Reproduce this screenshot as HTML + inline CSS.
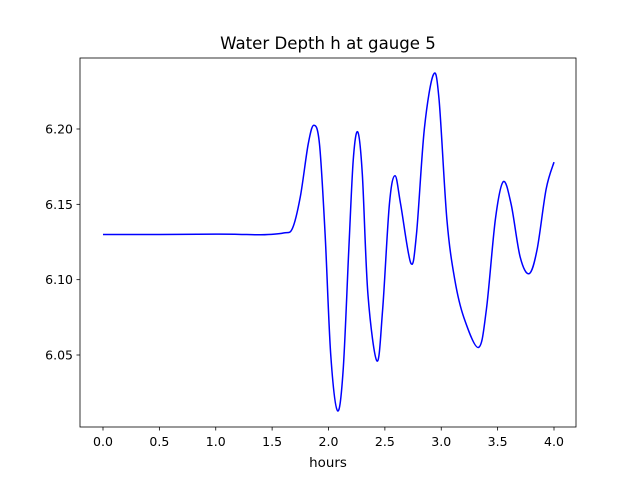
<!DOCTYPE html>
<html><head><meta charset="utf-8"><style>
body{margin:0;background:#fff;}
svg{display:block;font-family:"DejaVu Sans","Liberation Sans",sans-serif;}
</style></head><body>
<svg id="chart" width="640" height="480" viewBox="0 0 640 480">
<rect width="640" height="480" fill="#fff"/>
<text x="328" y="49" font-size="16.6" text-anchor="middle">Water Depth h at gauge 5</text>
<g id="xt"></g>
<g id="yt"></g>
<path id="line" fill="none" stroke="#0000ff" stroke-width="1.5"/>
<rect x="80" y="58" width="496" height="369" fill="none" stroke="#000" stroke-width="0.8"/>
<text x="328" y="467" font-size="13.4" text-anchor="middle">hours</text>
</svg>
<script>
const times=[0,0.5,1.0,1.2,1.4,1.6,1.68,1.75,1.82,1.87,1.92,1.97,2.02,2.08,2.13,2.18,2.22,2.26,2.30,2.35,2.43,2.48,2.54,2.59,2.64,2.73,2.78,2.85,2.93,2.98,3.05,3.12,3.2,3.33,3.40,3.48,3.55,3.62,3.70,3.78,3.85,3.93,4.0];
const depths=[6.130,6.130,6.1302,6.1301,6.1298,6.131,6.134,6.155,6.190,6.2025,6.19,6.13,6.05,6.013,6.04,6.12,6.18,6.198,6.17,6.09,6.046,6.08,6.15,6.169,6.15,6.111,6.13,6.20,6.236,6.22,6.14,6.10,6.075,6.055,6.08,6.14,6.165,6.15,6.115,6.104,6.12,6.16,6.178];
const xTicks=[0,0.5,1.0,1.5,2.0,2.5,3.0,3.5,4.0];
const xTickLabels=["0.0","0.5","1.0","1.5","2.0","2.5","3.0","3.5","4.0"];
const yTicks=[6.05,6.10,6.15,6.20];
const yTickLabels=["6.05","6.10","6.15","6.20"];
const X=t=>103+t*112.75;
const Y=h=>355-(h-6.05)*1506.7;
const NS="http://www.w3.org/2000/svg";
const xt=document.getElementById('xt'),yt=document.getElementById('yt');
xTicks.forEach((t,i)=>{
 const l=document.createElementNS(NS,'line');
 
 
 l.setAttribute('x1',X(t));l.setAttribute('x2',X(t));l.setAttribute('y1',427);l.setAttribute('y2',430.5);l.setAttribute('stroke','#000');l.setAttribute('stroke-width','0.8');
 xt.appendChild(l);
 const tx=document.createElementNS(NS,'text');
 
 
 tx.setAttribute('x',X(t));tx.setAttribute('y',446);tx.setAttribute('font-size','12.5');tx.setAttribute('text-anchor','middle');
 tx.textContent=xTickLabels[i];xt.appendChild(tx);
});
yTicks.forEach((h,i)=>{
 const l=document.createElementNS(NS,'line');
 
 
 l.setAttribute('x1',76.5);l.setAttribute('x2',80);l.setAttribute('y1',Y(h));l.setAttribute('y2',Y(h));l.setAttribute('stroke','#000');l.setAttribute('stroke-width','0.8');
 yt.appendChild(l);
 const tx=document.createElementNS(NS,'text');
 
 
 tx.setAttribute('x',73);tx.setAttribute('y',Y(h)+4.5);tx.setAttribute('font-size','12.5');tx.setAttribute('text-anchor','end');
 tx.textContent=yTickLabels[i];yt.appendChild(tx);
});
const p=times.map((t,i)=>[X(t),Y(depths[i])]);
let d='M'+p[0][0]+','+p[0][1];
for(let i=0;i<p.length-1;i++){
 const p0=p[Math.max(0,i-1)],p1=p[i],p2=p[i+1],p3=p[Math.min(p.length-1,i+2)];
 const c1=[p1[0]+(p2[0]-p0[0])/6,p1[1]+(p2[1]-p0[1])/6];
 const c2=[p2[0]-(p3[0]-p1[0])/6,p2[1]-(p3[1]-p1[1])/6];
 d+=' C'+c1[0]+','+c1[1]+' '+c2[0]+','+c2[1]+' '+p2[0]+','+p2[1];
}
document.getElementById('line').setAttribute('d',d);
</script>
</body></html>
